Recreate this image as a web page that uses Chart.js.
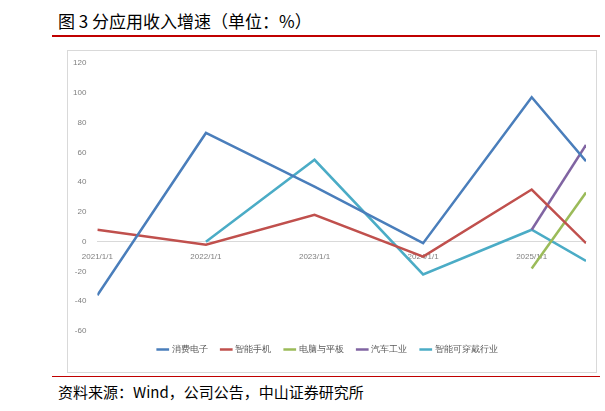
<!DOCTYPE html>
<html><head><meta charset="utf-8">
<script src="https://cdn.jsdelivr.net/npm/chart.js@4"></script>
<style>
body{margin:0;width:605px;height:411px;background:#fff;font-family:"Noto Sans CJK SC",sans-serif;position:relative}
#title{position:absolute;left:58px;top:8px;font-size:17px;color:#000}
.red{position:absolute;left:52px;width:548px;height:2px;background:#c00000}
#box{position:absolute;left:67px;top:50px;width:528px;height:321px;border:1px solid #d9d9d9}
#src{position:absolute;left:58px;top:381px;font-size:15px}
</style></head><body>
<div id="title">图 3 分应用收入增速（单位：%）</div>
<div class="red" style="top:35px"></div>
<div id="box"><canvas id="c" width="528" height="321"></canvas></div>
<div class="red" style="top:376px;height:1px"></div>
<div id="src">资料来源：Wind，公司公告，中山证券研究所</div>
<script>
const years = [2021, 2022, 2023, 2024, 2025, 2025.5];
const consumer = [-36, 73, 37, -1, 97, 54];
const phone = [8, -2, 18, -10, 35, -1];
const pc = [null, null, null, null, -18, 33];
const auto = [null, null, null, null, 8, 65];
const wearable = [null, 0, 55, -22, 8, -13];
const names = ['消费电子', '智能手机', '电脑与平板', '汽车工业', '智能可穿戴行业'];
const colors = ['#4a7ebb', '#c0504d', '#9bbb59', '#8064a2', '#4bacc6'];
const series = [consumer, phone, pc, auto, wearable];

const datasets = series.map((s, i) => ({
    label: names[i],
    data: years.map((x, j) => ({x: x, y: s[j]})).filter(p => p.y !== null),
    borderColor: colors[i],
    backgroundColor: colors[i],
    borderWidth: 2.5,
    pointRadius: 0,
    tension: 0
}));

new Chart(document.getElementById('c'), {
    type: 'line',
    data: {datasets: datasets},
    options: {
        responsive: false,
        animation: false,
        layout: {padding: {left: 2, right: 10, top: 12, bottom: 8}},
        scales: {
            x: {
                type: 'linear', min: 2021, max: 2025.5,
                position: {y: 0},
                grid: {display: false},
                border: {color: '#d9d9d9'},
                afterBuildTicks: a => { a.ticks = [2021, 2022, 2023, 2024, 2025].map(v => ({value: v})); },
                ticks: {callback: v => v + '/1/1', color: '#7f7f7f', font: {size: 8}, maxRotation: 0, padding: 2}
            },
            y: {
                min: -60, max: 120,
                grid: {display: false},
                border: {display: false},
                ticks: {stepSize: 20, color: '#7f7f7f', font: {size: 8}}
            }
        },
        plugins: {
            legend: {
                position: 'bottom',
                labels: {usePointStyle: true, pointStyle: 'line', boxWidth: 30, color: '#595959', font: {size: 9}, padding: 14}
            },
            tooltip: {enabled: false}
        }
    }
});
</script>
</body></html>
